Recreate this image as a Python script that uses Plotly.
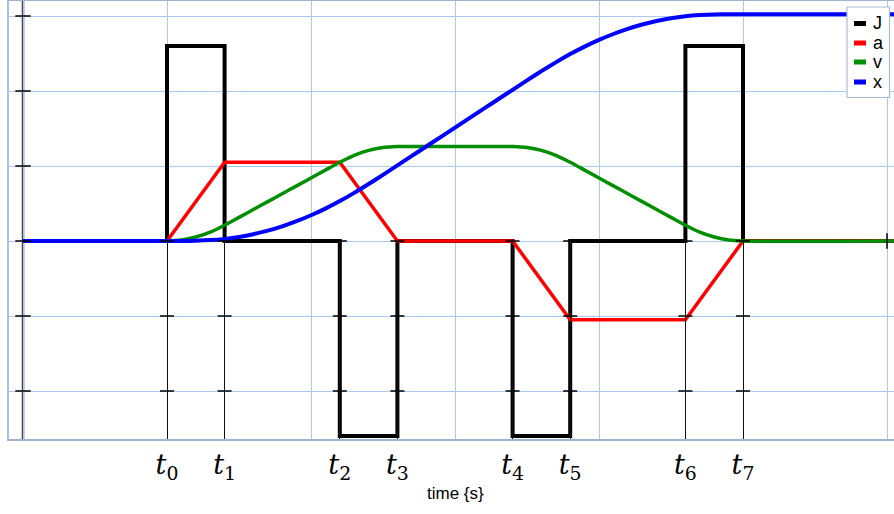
import plotly.graph_objects as go

# ---------------- data ----------------
# switching instants t0..t7 (s) and tick labels
t_switch = [1.0, 1.4, 2.2, 2.6, 3.4, 3.8, 4.6, 5.0]
t_labels = ["<i>t</i><sub>%d</sub>" % i for i in range(8)]

# jerk / acceleration breakpoints
phase_t = [0.0, 1.0, 1.4, 2.2, 2.6, 3.4, 3.8, 4.6, 5.0, 6.1]
jerk = [0, 2.6, 0, -2.6, 0, -2.6, 0, 2.6, 0, 0]
accel = [0, 0, 1.05, 1.05, 0, 0, -1.05, -1.05, 0, 0]

# velocity / position samples
sample_t = [0.0, 1.0, 1.1, 1.2, 1.3, 1.4, 1.5, 1.6, 1.7, 1.8, 1.9, 2.0, 2.1, 2.2,
            2.3, 2.4, 2.5, 2.6, 2.7, 2.8, 2.9, 3.0, 3.1, 3.2, 3.3, 3.4, 3.5, 3.6,
            3.7, 3.8, 3.9, 4.0, 4.1, 4.2, 4.3, 4.4, 4.5, 4.6, 4.7, 4.8, 4.9, 5.0, 6.1]
velocity = [0, 0, 0.013, 0.053, 0.118, 0.21, 0.315, 0.42, 0.525, 0.63, 0.735, 0.84,
            0.945, 1.05, 1.142, 1.208, 1.247, 1.26, 1.26, 1.26, 1.26, 1.26, 1.26,
            1.26, 1.26, 1.26, 1.247, 1.208, 1.142, 1.05, 0.945, 0.84, 0.735, 0.63,
            0.525, 0.42, 0.315, 0.21, 0.118, 0.053, 0.013, 0, 0]
position = [0, 0, 0.0004, 0.0035, 0.012, 0.028, 0.054, 0.091, 0.138, 0.196, 0.264,
            0.343, 0.432, 0.532, 0.642, 0.760, 0.882, 1.008, 1.134, 1.26, 1.386,
            1.512, 1.638, 1.764, 1.89, 2.016, 2.142, 2.265, 2.382, 2.492, 2.592,
            2.681, 2.760, 2.828, 2.886, 2.933, 2.970, 2.996, 3.012, 3.021, 3.024,
            3.024, 3.024]

series_names = ["J", "a", "v", "x"]
series_colors = ["#000000", "#ff0000", "#008f00", "#0000ff"]
grid_y = [-2, -1, 0, 1, 2, 3]
rule_tick_y = [0, -1, -2]
axis_end_tick_x = [6]

# ---------------- figure ----------------
fig = go.Figure()
fig.add_trace(go.Scatter(x=phase_t, y=jerk, mode="lines", line_shape="hv",
                         line=dict(color=series_colors[0], width=4), name="J"))
fig.add_trace(go.Scatter(x=phase_t, y=accel, mode="lines",
                         line=dict(color=series_colors[1], width=3.5), name="a"))
fig.add_trace(go.Scatter(x=sample_t, y=velocity, mode="lines", line_shape="spline",
                         line=dict(color=series_colors[2], width=3.5, smoothing=0.6), name="v"))
fig.add_trace(go.Scatter(x=sample_t, y=position, mode="lines", line_shape="spline",
                         line=dict(color=series_colors[3], width=4, smoothing=0.6), name="x"))

# small cross ticks on the left axis
fig.add_trace(go.Scatter(x=[0] * len(grid_y), y=grid_y, mode="markers",
                         marker=dict(symbol="line-ew", size=11, line=dict(width=1.5, color="#000")),
                         showlegend=False, hoverinfo="skip"))
# cross ticks on the switching-instant rules
tx, ty = [], []
for t in t_switch:
    for g in rule_tick_y:
        tx.append(t)
        ty.append(g)
fig.add_trace(go.Scatter(x=tx, y=ty, mode="markers",
                         marker=dict(symbol="line-ew", size=10, line=dict(width=1.5, color="#000")),
                         showlegend=False, hoverinfo="skip"))
# tick on the time axis through zero
fig.add_trace(go.Scatter(x=axis_end_tick_x, y=[0] * len(axis_end_tick_x), mode="markers",
                         marker=dict(symbol="line-ns", size=11, line=dict(width=1.5, color="#000")),
                         showlegend=False, hoverinfo="skip"))

# left axis line at t = 0
fig.add_shape(type="line", xref="x", yref="paper", x0=0, x1=0, y0=0, y1=1,
              line=dict(color="#444444", width=2.5), layer="between")

# custom legend
L = 9
PW = 885.0
PH = 438.0


def px(xp):
    return (xp - L) / PW


def py(yp):
    return (439 - yp) / PH


fig.add_shape(type="rect", xref="paper", yref="paper", x0=px(847), x1=px(889.5),
              y0=py(97.5), y1=py(7), line=dict(color="#a9bcd6", width=1.2),
              fillcolor="white", layer="above")
item_y = [23.5, 43, 62, 82]
for name, col, yy in zip(series_names, series_colors, item_y):
    fig.add_shape(type="line", xref="paper", yref="paper", x0=px(854), x1=px(866),
                  y0=py(yy), y1=py(yy), line=dict(color=col, width=5), layer="above")
    fig.add_annotation(xref="paper", yref="paper", x=px(871), y=py(yy), text=name,
                       showarrow=False, xanchor="left", yanchor="middle",
                       font=dict(family="Liberation Sans, Arial", size=18, color="#000"))

# axis title
fig.add_annotation(xref="paper", yref="paper", x=px(455), y=py(493), text="time {s}",
                   showarrow=False, xanchor="center", yanchor="middle",
                   font=dict(family="Liberation Sans, Arial", size=17, color="#000"))

fig.update_layout(
    width=894, height=514,
    margin=dict(l=L, r=0, t=1, b=75),
    plot_bgcolor="white", paper_bgcolor="white",
    showlegend=False,
    xaxis=dict(range=[-14 / 144, 871 / 144], tickvals=t_switch, ticktext=t_labels,
               ticks="inside", ticklen=198, tickwidth=1.2, tickcolor="#111",
               ticklabelstandoff=1,
               tickfont=dict(family="DejaVu Serif", size=27, color="#000"),
               showgrid=False, zeroline=False,
               showline=True, linecolor="#9fb3d1", linewidth=1.5, mirror=True,
               minor=dict(tick0=0, dtick=1, showgrid=True, gridcolor="#abc9ef", gridwidth=1)),
    yaxis=dict(range=[-198 / 75, 240 / 75], tick0=0, dtick=1, showticklabels=False,
               showgrid=True, gridcolor="#abc9ef", gridwidth=1, zeroline=False,
               showline=True, linecolor="#a9c2e3", linewidth=1.5),
)

fig.write_html("out.html")
